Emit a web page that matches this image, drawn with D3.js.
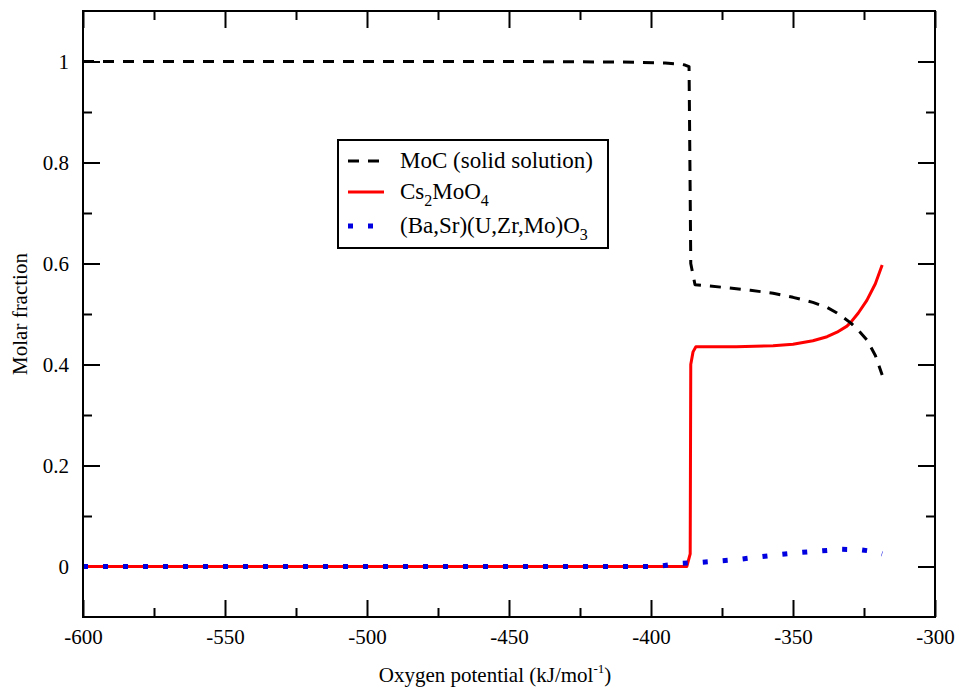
<!DOCTYPE html>
<html>
<head>
<meta charset="utf-8">
<script src="https://cdn.jsdelivr.net/npm/d3@7"></script>
<style>
  body { margin: 0; background: #fff; }
  svg text { font-family: "Liberation Serif", "Times New Roman", serif; fill: #000; }
</style>
</head>
<body>
<svg id="chart" width="959" height="689"></svg>
<script>
// data
const mocX = [-600, -450, -410, -395, -390, -388, -386.6, -386.3, -386, -384.5, -375, -365, -357, -350, -343, -338, -334.5, -329.6, -327, -324, -321, -318.6];
const mocY = [1, 1, 0.999, 0.997, 0.995, 0.993, 0.99, 0.8, 0.6, 0.558, 0.553, 0.547, 0.541, 0.533, 0.523, 0.513, 0.502, 0.482, 0.468, 0.449, 0.418, 0.379];

const csX = [-600, -387.4, -386.2, -386.0, -385.2, -384.2, -370, -357, -350, -343, -338, -334.5, -331, -329.6, -327, -324, -321, -318.6];
const csY = [0, 0, 0.025, 0.40, 0.425, 0.435, 0.435, 0.437, 0.440, 0.447, 0.455, 0.464, 0.476, 0.484, 0.502, 0.527, 0.560, 0.597];

const baX = [-600, -398, -390, -383, -376, -369, -362, -354, -347, -340, -333, -326, -322, -318.6];
const baY = [0, 0, 0.006, 0.008, 0.011, 0.014, 0.019, 0.024, 0.028, 0.031, 0.034, 0.033, 0.030, 0.025];

const xTicks = [-600, -550, -500, -450, -400, -350, -300];
const yTicks = [0, 0.2, 0.4, 0.6, 0.8, 1];
const xMinor = [-575, -525, -475, -425, -375, -325];
const yMinor = [0.1, 0.3, 0.5, 0.7, 0.9];

const series = [
  {name: "MoC (solid solution)", xs: mocX, ys: mocY, color: "#000", width: 3, dash: "11,9"},
  {name: "Cs2MoO4", xs: csX, ys: csY, color: "#ff0000", width: 3, dash: null},
  {name: "(Ba,Sr)(U,Zr,Mo)O3", xs: baX, ys: baY, color: "#0000e0", width: 5, dash: "5,15"}
];

const svg = d3.select('#chart');
const margin = {top: 11, right: 24, bottom: 72, left: 83};
const width = 959 - margin.left - margin.right;
const height = 689 - margin.top - margin.bottom;

const x = d3.scaleLinear().domain([-600, -300]).range([0, width]);
const y = d3.scaleLinear().domain([-0.1, 1.1]).range([height, 0]);

const g = svg.append('g').attr('transform', `translate(${margin.left},${margin.top})`);

// ticks on all four sides, pointing inward
const major = 17, minor = 9;
const bottomAx = g.append('g').attr('transform', `translate(0,${height})`)
  .call(d3.axisBottom(x).tickValues(xTicks).tickSizeInner(-major).tickSizeOuter(0).tickPadding(9).tickFormat(d => String(d)));
g.append('g').attr('transform', `translate(0,${height})`)
  .call(d3.axisBottom(x).tickValues(xMinor).tickSizeInner(-minor).tickSizeOuter(0).tickFormat(''));
g.append('g')
  .call(d3.axisTop(x).tickValues(xTicks).tickSizeInner(-major).tickSizeOuter(0).tickFormat(''));
g.append('g')
  .call(d3.axisTop(x).tickValues(xMinor).tickSizeInner(-minor).tickSizeOuter(0).tickFormat(''));

const leftAx = g.append('g')
  .call(d3.axisLeft(y).tickValues(yTicks).tickSizeInner(-major).tickSizeOuter(0).tickPadding(14).tickFormat(d => d === 0 ? '0' : d === 1 ? '1' : d3.format('.1f')(d)));
g.append('g')
  .call(d3.axisLeft(y).tickValues(yMinor).tickSizeInner(-minor).tickSizeOuter(0).tickFormat(''));
g.append('g').attr('transform', `translate(${width},0)`)
  .call(d3.axisRight(y).tickValues(yTicks).tickSizeInner(-major).tickSizeOuter(0).tickFormat(''));
g.append('g').attr('transform', `translate(${width},0)`)
  .call(d3.axisRight(y).tickValues(yMinor).tickSizeInner(-minor).tickSizeOuter(0).tickFormat(''));

g.selectAll('.domain').remove();
g.selectAll('.tick line').attr('stroke', '#000').attr('stroke-width', 2);
g.selectAll('g').attr('font-family', null);
g.selectAll('.tick text').attr('font-size', 21).style('font-family', '"Liberation Serif", serif');
bottomAx.selectAll('.tick text').attr('dy', '0.85em');

// series lines
const line = d3.line().x(d => x(d[0])).y(d => y(d[1]));
g.append('defs').append('clipPath').attr('id', 'clip')
  .append('rect').attr('width', width).attr('height', height);
const plot = g.append('g').attr('clip-path', 'url(#clip)');

// red first, then black dashes, blue dots on top
[series[1], series[0], series[2]].forEach(s => {
  let pts = s.xs.map((v, i) => [v, s.ys[i]]);
  plot.append('path')
    .datum(pts)
    .attr('d', line)
    .attr('fill', 'none')
    .attr('stroke', s.color)
    .attr('stroke-width', s.width)
    .attr('stroke-dasharray', s.dash)
    .attr('stroke-linejoin', 'round');
});

// frame
g.append('rect')
  .attr('width', width).attr('height', height)
  .attr('fill', 'none').attr('stroke', '#000').attr('stroke-width', 2);

// legend
const legend = g.append('g').attr('transform', `translate(${338 - margin.left},${140 - margin.top})`);
legend.append('rect')
  .attr('width', 270).attr('height', 108)
  .attr('fill', '#fff').attr('stroke', '#000').attr('stroke-width', 2);
const rowY = [21, 52, 86];
series.forEach((s, i) => {
  legend.append('line')
    .attr('x1', 10).attr('x2', 46)
    .attr('y1', rowY[i]).attr('y2', rowY[i])
    .attr('stroke', s.color)
    .attr('stroke-width', s.width)
    .attr('stroke-dasharray', s.dash);
});
const lt = legend.selectAll('.lbl').data(series).enter().append('text')
  .attr('class', 'lbl')
  .attr('x', 62)
  .attr('y', (d, i) => rowY[i] + 7)
  .attr('font-size', 23);
lt.each(function(d){
  let t = d3.select(this);
  // split formula into normal and subscript pieces
  let parts = d.name === "Cs2MoO4" ? [["Cs", 0], ["2", 1], ["MoO", 0], ["4", 1]]
            : d.name === "(Ba,Sr)(U,Zr,Mo)O3" ? [["(Ba,Sr)(U,Zr,Mo)O", 0], ["3", 1]]
            : [[d.name, 0]];
  let shifted = false;
  parts.forEach(p => {
    let ts = t.append('tspan').text(p[0]);
    if(p[1]){ ts.attr('dy', 7).attr('font-size', 16); shifted = true; }
    else if(shifted){ ts.attr('dy', -7); shifted = false; }
  });
});

// axis titles
svg.append('text')
  .attr('x', 495)
  .attr('y', 682)
  .attr('text-anchor', 'middle')
  .attr('font-size', 21)
  .html('Oxygen potential (kJ/mol<tspan dy="-9" font-size="13">-1</tspan><tspan dy="9">)</tspan>');

svg.append('text')
  .attr('transform', `translate(27,${margin.top + y(0.5)}) rotate(-90)`)
  .attr('text-anchor', 'middle')
  .attr('font-size', 21)
  .text('Molar fraction');
</script>
</body>
</html>
